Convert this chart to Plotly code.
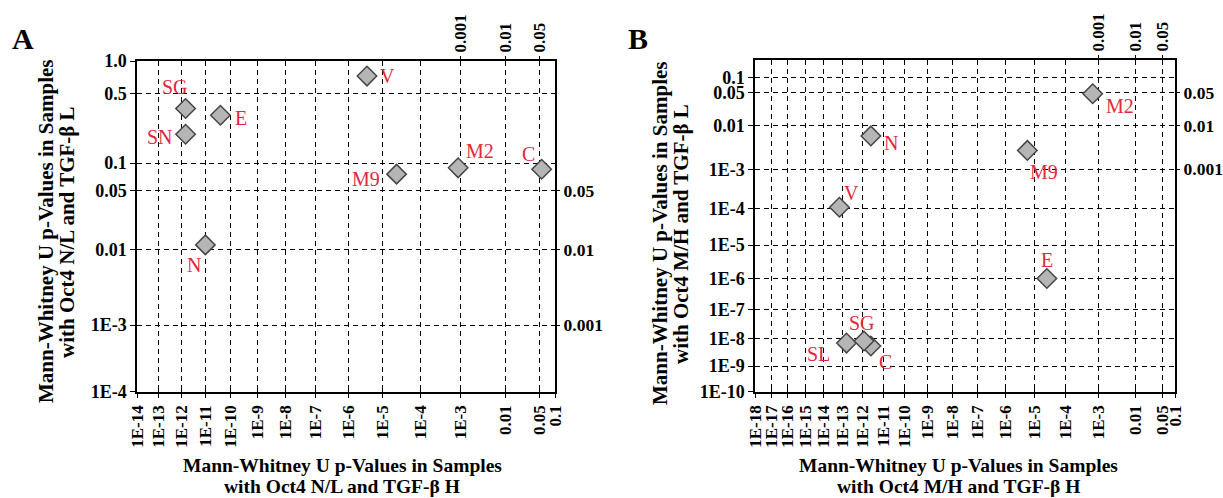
import numpy as np
import plotly.graph_objects as go

# ---------------- data (p-values) ----------------
# Panel A: x = p (Oct4 N/L, TGF-beta H), y = p (Oct4 N/L, TGF-beta L)
a_names = ["SG", "SN", "E", "N", "V", "M9", "M2", "C"]
a_p_h = [1.5e-12, 1.5e-12, 4e-11, 1e-11, 3.6e-6, 2.4e-5, 8.6e-4, 0.055]
a_p_l = [0.36, 0.20, 0.31, 0.0115, 0.73, 0.076, 0.089, 0.086]

# Panel B: x = p (Oct4 M/H, TGF-beta H), y = p (Oct4 M/H, TGF-beta L)
b_names = ["N", "V", "M2", "M9", "E", "SL", "C", "SG"]
b_p_h = [2.6e-12, 6.9e-14, 6.6e-4, 5.9e-6, 2.6e-5, 1.6e-13, 2.6e-12, 1.2e-12]
b_p_l = [6e-3, 1.1e-4, 0.048, 2.8e-3, 1e-6, 7e-9, 5.5e-9, 8.3e-9]

# tick values / labels
a_xticks = [1e-14, 1e-13, 1e-12, 1e-11, 1e-10, 1e-9, 1e-8, 1e-7, 1e-6, 1e-5, 1e-4, 1e-3, 0.01, 0.05, 0.1]
a_xlabels = ["1E-14", "1E-13", "1E-12", "1E-11", "1E-10", "1E-9", "1E-8", "1E-7", "1E-6", "1E-5",
             "1E-4", "1E-3", "0.01", "0.05", "0.1"]
a_yticks = [1.0, 0.5, 0.1, 0.05, 0.01, 1e-3, 1e-4]
a_ylabels = ["1.0", "0.5", "0.1", "0.05", "0.01", "1E-3", "1E-4"]
b_xticks = [1e-18, 1e-17, 1e-16, 1e-15, 1e-14, 1e-13, 1e-12, 1e-11, 1e-10, 1e-9, 1e-8, 1e-7, 1e-6, 1e-5,
            1e-4, 1e-3, 0.01, 0.05, 0.1]
b_xlabels = ["1E-18", "1E-17", "1E-16", "1E-15", "1E-14", "1E-13", "1E-12", "1E-11", "1E-10", "1E-9",
             "1E-8", "1E-7", "1E-6", "1E-5", "1E-4", "1E-3", "0.01", "0.05", "0.1"]
b_yticks = [0.1, 0.05, 0.01, 1e-3, 1e-4, 1e-5, 1e-6, 1e-7, 1e-8, 1e-9, 1e-10]
b_ylabels = ["0.1", "0.05", "0.01", "1E-3", "1E-4", "1E-5", "1E-6", "1E-7", "1E-8", "1E-9", "1E-10"]
top_ticks = [0.001, 0.01, 0.05]
top_labels = ["0.001", "0.01", "0.05"]
right_ticks = [0.05, 0.01, 0.001]
right_labels = ["0.05", "0.01", "0.001"]

# axis titles
a_xtitle = ["Mann-Whitney U p-Values in Samples", "with Oct4 N/L and TGF-β H"]
a_ytitle = ["Mann-Whitney U p-Values in Samples", "with Oct4 N/L and TGF-β L"]
b_xtitle = ["Mann-Whitney U p-Values in Samples", "with Oct4 M/H and TGF-β H"]
b_ytitle = ["Mann-Whitney U p-Values in Samples", "with Oct4 M/H and TGF-β L"]

# ---------------- axis scale (compressed log-p scale of the original) ----------------
def scale(p, c):
    p = np.asarray(p, dtype=float)
    return -np.log(-np.log10(p) + c)

C_AX, C_AY, C_BX, C_BY = 7.9, 5.15, 9.5, 7.66
A_X_RANGE = (1e-14, 0.1)
A_Y_RANGE = (1e-4, 1.0)
B_X_RANGE = (1e-18, 0.1)
B_Y_RANGE = (1e-10, 0.22)

# ---------------- styles ----------------
SERIF = "Liberation Serif, Times New Roman, serif"
RED = "#e3283c"
MARKER = dict(symbol="diamond", size=15, color="#b5b5b5", line=dict(color="#454545", width=1.5))
TICKFONT_Y = dict(family=SERIF, size=18, color="black", weight="bold")
TICKFONT_R = dict(family=SERIF, size=17.5, color="black", weight="bold")
TICKFONT_X = dict(family=SERIF, size=17, color="black", weight="bold")
XTITLEFONT = dict(family=SERIF, size=19.5, color="black", weight="bold")
YTITLEFONT = dict(family=SERIF, size=21, color="black", weight="bold")
LABELFONT = dict(family=SERIF, size=20, color=RED)
LETTERFONT = dict(family=SERIF, size=30, color="black", weight="bold")

a_offsets = {"SG": (-11, -22), "SN": (-26, 3), "E": (21, 3), "N": (-11, 20),
             "V": (21, 0), "M9": (-31, 5), "M2": (22, -17), "C": (-13, -15)}
b_offsets = {"N": (20, 7), "V": (12, -14), "M2": (27, 12), "M9": (17, 22),
             "E": (0, -19), "SL": (-28, 11), "SG": (-2, -18), "C": (15, 16)}

W, H = 1223, 498
A_DOM_X = [137 / W, 555 / W]
A_DOM_Y = [1 - 391.7 / H, 1 - 61 / H]
B_DOM_X = [755 / W, 1175 / W]
B_DOM_Y = [1 - 391.7 / H, 1 - 60 / H]

fig = go.Figure()

# main markers
fig.add_trace(go.Scatter(x=scale(a_p_h, C_AX), y=scale(a_p_l, C_AY), mode="markers",
                         marker=MARKER, xaxis="x", yaxis="y", hoverinfo="text", text=a_names,
                         showlegend=False))
fig.add_trace(go.Scatter(x=scale(b_p_h, C_BX), y=scale(b_p_l, C_BY), mode="markers",
                         marker=MARKER, xaxis="x2", yaxis="y2", hoverinfo="text", text=b_names,
                         showlegend=False))
# invisible traces to carry the secondary axes (top/right labels, inner tick marks)
for xa, ya, px, py, cx, cy in [("x3", "y3", a_p_h, a_p_l, C_AX, C_AY),
                               ("x4", "y4", b_p_h, b_p_l, C_BX, C_BY),
                               ("x5", "y5", a_p_h, a_p_l, C_AX, C_AY),
                               ("x6", "y6", b_p_h, b_p_l, C_BX, C_BY)]:
    fig.add_trace(go.Scatter(x=scale(px, cx), y=scale(py, cy), mode="markers",
                             marker=dict(opacity=0), xaxis=xa, yaxis=ya, hoverinfo="skip",
                             showlegend=False))


def main_axis(tickvals, ticktext, rng, c, domain, anchor, font, angle=0):
    return dict(
        domain=domain, anchor=anchor, automargin=False,
        range=[float(scale(rng[0], c)), float(scale(rng[1], c))],
        tickmode="array", tickvals=scale(tickvals, c).tolist(), ticktext=ticktext,
        tickfont=font, tickangle=angle,
        showline=True, linecolor="black", linewidth=1.5, mirror=True,
        ticks="outside", ticklen=5, tickwidth=1.2, tickcolor="black",
        showgrid=True, gridcolor="black", gridwidth=1, griddash="5px,4px",
        zeroline=False, fixedrange=True,
    )


def sec_axis(tickvals, ticktext, rng, c, over, anchor, side, font=None, angle=0, inside=False):
    d = dict(
        overlaying=over, anchor=anchor, side=side, automargin=False,
        range=[float(scale(rng[0], c)), float(scale(rng[1], c))],
        tickmode="array", tickvals=scale(tickvals, c).tolist(),
        showline=False, ticks="inside" if inside else "outside", ticklen=4, tickwidth=1.2,
        tickcolor="black", showgrid=False, zeroline=False, fixedrange=True,
    )
    if inside:
        d["showticklabels"] = False
    else:
        d.update(ticktext=ticktext, tickfont=font, tickangle=angle)
    return d


fig.update_layout(
    template="none",
    xaxis=main_axis(a_xticks, a_xlabels, A_X_RANGE, C_AX, A_DOM_X, "y", TICKFONT_X, -90),
    yaxis=main_axis(a_yticks, a_ylabels, A_Y_RANGE, C_AY, A_DOM_Y, "x", TICKFONT_Y),
    xaxis2=main_axis(b_xticks, b_xlabels, B_X_RANGE, C_BX, B_DOM_X, "y2", TICKFONT_X, -90),
    yaxis2=main_axis(b_yticks, b_ylabels, B_Y_RANGE, C_BY, B_DOM_Y, "x2", TICKFONT_Y),
    xaxis3=sec_axis(top_ticks, top_labels, A_X_RANGE, C_AX, "x", "y", "top", TICKFONT_X, -90),
    yaxis3=sec_axis(right_ticks, right_labels, A_Y_RANGE, C_AY, "y", "x", "right", TICKFONT_R),
    xaxis4=sec_axis(top_ticks, top_labels, B_X_RANGE, C_BX, "x2", "y2", "top", TICKFONT_X, -90),
    yaxis4=sec_axis(right_ticks, right_labels, B_Y_RANGE, C_BY, "y2", "x2", "right", TICKFONT_R),
    xaxis5=sec_axis(a_xticks, None, A_X_RANGE, C_AX, "x", "y", "bottom", inside=True),
    yaxis5=sec_axis(a_yticks, None, A_Y_RANGE, C_AY, "y", "x", "left", inside=True),
    xaxis6=sec_axis(b_xticks, None, B_X_RANGE, C_BX, "x2", "y2", "bottom", inside=True),
    yaxis6=sec_axis(b_yticks, None, B_Y_RANGE, C_BY, "y2", "x2", "left", inside=True),
)

annotations = []
# point labels
for name, ph, pl in zip(a_names, a_p_h, a_p_l):
    dx, dy = a_offsets[name]
    annotations.append(dict(x=float(scale(ph, C_AX)), y=float(scale(pl, C_AY)), xref="x", yref="y",
                            xanchor="center", yanchor="middle",
                            text=name, showarrow=False, font=LABELFONT, xshift=dx, yshift=-dy))
for name, ph, pl in zip(b_names, b_p_h, b_p_l):
    dx, dy = b_offsets[name]
    annotations.append(dict(x=float(scale(ph, C_BX)), y=float(scale(pl, C_BY)), xref="x2", yref="y2",
                            xanchor="center", yanchor="middle",
                            text=name, showarrow=False, font=LABELFONT, xshift=dx, yshift=-dy))


def paper_text(x_px, y_px, text, font, angle=0):
    return dict(x=x_px / W, y=1 - y_px / H, xref="paper", yref="paper", showarrow=False,
                xanchor="center", yanchor="middle", font=font, textangle=angle, text=text)


annotations += [
    paper_text(342, 465, a_xtitle[0], XTITLEFONT),
    paper_text(342, 486, a_xtitle[1], XTITLEFONT),
    paper_text(958, 465, b_xtitle[0], XTITLEFONT),
    paper_text(958, 486, b_xtitle[1], XTITLEFONT),
    paper_text(46, 232, a_ytitle[0], YTITLEFONT, -90),
    paper_text(67, 232, a_ytitle[1], YTITLEFONT, -90),
    paper_text(660, 234, b_ytitle[0], YTITLEFONT, -90),
    paper_text(681, 234, b_ytitle[1], YTITLEFONT, -90),
    paper_text(23, 38, "A", LETTERFONT),
    paper_text(638, 38, "B", LETTERFONT),
]

fig.update_layout(
    annotations=annotations,
    width=W, height=H, autosize=False,
    margin=dict(l=0, r=0, t=0, b=0, pad=0),
    paper_bgcolor="white", plot_bgcolor="white",
    showlegend=False,
)

fig.write_html("out.html", config={"displayModeBar": False},
               post_script="document.body.style.margin='0';document.documentElement.style.overflow='hidden';")
